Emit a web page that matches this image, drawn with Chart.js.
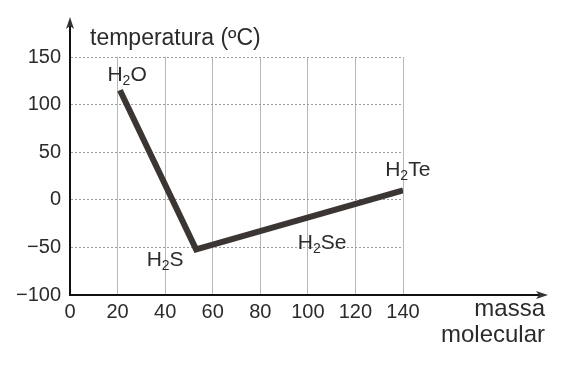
<!DOCTYPE html>
<html>
<head>
<meta charset="utf-8">
<script src="https://cdn.jsdelivr.net/npm/chart.js@4/dist/chart.umd.min.js"></script>
<style>
  html, body { margin: 0; padding: 0; background: #fff; }
  #wrap { width: 572px; height: 368px; position: relative; }
</style>
</head>
<body>
<div id="wrap"><canvas id="tempChart"></canvas></div>
<script>
// line points (massa molecular, temperatura)
var pointMass = [21, 53, 140];
var pointTemp = [115, -52, 10];

// compound labels and where they sit
var labelNames = ['H2O', 'H2S', 'H2Se', 'H2Te'];
var labelMass = [24, 40, 106, 142];
var labelTemp = [133, -62, -44, 33];

var xTicks = [0, 20, 40, 60, 80, 100, 120, 140];
var yTicks = [-100, -50, 0, 50, 100, 150];

var textColor = '#2b2b2b';
var font = 'Liberation Sans, Arial, sans-serif';

var pts = pointMass.map(function (m, i) { return { x: m, y: pointTemp[i] }; });

// arrows, axis titles and compound labels
var extras = {
   id: 'extras',
   afterDraw: function (chart) {
      var ctx = chart.ctx;
      var xs = chart.scales.x, ys = chart.scales.y;
      var x0 = xs.getPixelForValue(0), yb = ys.getPixelForValue(-100);
      var ytop = ys.getPixelForValue(150);
      ctx.save();
      ctx.strokeStyle = '#111';
      ctx.fillStyle = '#333';
      ctx.lineWidth = 2;
      // y axis extension + arrow
      ctx.beginPath();
      ctx.moveTo(x0, ytop); ctx.lineTo(x0, 24);
      ctx.stroke();
      ctx.beginPath();
      ctx.moveTo(x0, 17); ctx.lineTo(x0 - 4, 29); ctx.lineTo(x0, 26); ctx.lineTo(x0 + 4, 29);
      ctx.closePath(); ctx.fill();
      // x axis extension + arrow
      ctx.beginPath();
      ctx.moveTo(xs.right, yb); ctx.lineTo(540, yb);
      ctx.stroke();
      ctx.beginPath();
      ctx.moveTo(548, yb); ctx.lineTo(536, yb - 4); ctx.lineTo(539, yb); ctx.lineTo(536, yb + 4);
      ctx.closePath(); ctx.fill();

      ctx.fillStyle = textColor;
      ctx.font = '23px ' + font;
      ctx.textBaseline = 'alphabetic';
      ctx.textAlign = 'left';
      ctx.fillText('temperatura (ºC)', 90, 45);
      ctx.font = '24px ' + font;
      ctx.textAlign = 'right';
      ctx.fillText('massa', 545, 316);
      ctx.fillText('molecular', 545, 342);

      // compound labels with subscript 2
      ctx.textAlign = 'left';
      labelNames.forEach(function (name, i) {
         var cx = xs.getPixelForValue(labelMass[i]);
         var cy = ys.getPixelForValue(labelTemp[i]);
         var a = name.slice(0, 1), b = name.slice(1, 2), c = name.slice(2);
         ctx.font = '21px ' + font;
         var wa = ctx.measureText(a).width, wc = ctx.measureText(c).width;
         ctx.font = '14px ' + font;
         var wb = ctx.measureText(b).width;
         var left = cx - (wa + wb + wc) / 2;
         var base = cy + 7.5;
         ctx.font = '21px ' + font;
         ctx.fillText(a, left, base);
         ctx.font = '14px ' + font;
         ctx.fillText(b, left + wa, base + 4);
         ctx.font = '21px ' + font;
         ctx.fillText(c, left + wa + wb, base);
      });
      ctx.restore();
   }
};

new Chart('tempChart', {
   type: 'line',
   data: {
      datasets: [
         {
            data: pts,
            borderColor: '#3b3633',
            borderWidth: 6,
            pointRadius: 0,
            borderJoinStyle: 'miter',
            borderCapStyle: 'butt',
            tension: 0,
         },
         {
            data: pts,
            borderColor: '#7a726b',
            borderWidth: 2.5,
            pointRadius: 0,
            borderJoinStyle: 'miter',
            borderCapStyle: 'butt',
            tension: 0,
         },
      ],
   },
   options: {
      responsive: true,
      maintainAspectRatio: false,
      animation: false,
      layout: { padding: { left: 0, top: 57, right: 169, bottom: 43 } },
      plugins: { legend: { display: false }, tooltip: { enabled: false } },
      scales: {
         x: {
            type: 'linear',
            min: 0,
            max: 140,
            afterBuildTicks: function (s) { s.ticks = xTicks.map(function (v) { return { value: v }; }); },
            afterFit: function (s) { s.height = 30; },
            grid: { color: '#b8b8b8', lineWidth: 1, drawTicks: false },
            border: { display: true, color: '#111', width: 2, dash: [] },
            ticks: { color: textColor, font: { size: 20, family: font }, padding: 5, maxRotation: 0 },
         },
         y: {
            min: -100,
            max: 150,
            afterBuildTicks: function (s) { s.ticks = yTicks.map(function (v) { return { value: v }; }); },
            afterFit: function (s) { s.width = 70; },
            grid: { color: '#9a9a9a', lineWidth: 1, drawTicks: false },
            border: { display: true, color: '#111', width: 2, dash: [2, 2] },
            ticks: {
               color: textColor,
               font: { size: 20, family: font },
               padding: 9,
               callback: function (v) { return v < 0 ? '\u2212' + Math.abs(v) : v; },
            },
         },
      },
   },
   plugins: [extras],
});
</script>
</body>
</html>
